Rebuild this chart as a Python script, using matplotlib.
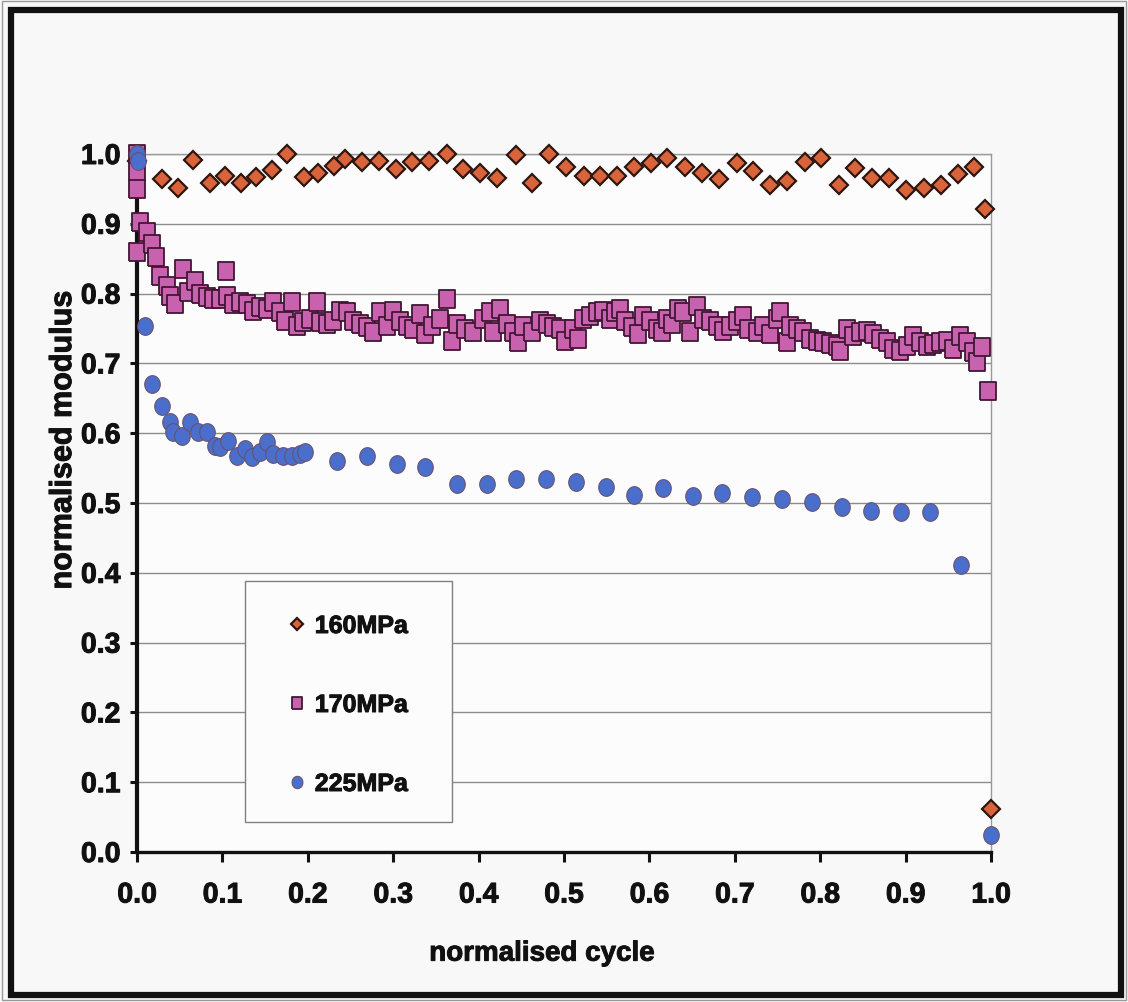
import numpy as np
import matplotlib
matplotlib.use("Agg")
import matplotlib.pyplot as plt
import matplotlib.patheffects as pe
from matplotlib.patches import Rectangle

# ---- data: normalised cycle vs normalised modulus ----
x_160 = [0.000, 0.029, 0.048, 0.066, 0.085, 0.103, 0.122, 0.139, 0.158, 0.176,
         0.195, 0.212, 0.231, 0.244, 0.264, 0.283, 0.303, 0.322, 0.342, 0.363,
         0.382, 0.402, 0.422, 0.444, 0.463, 0.483, 0.502, 0.523, 0.542, 0.562,
         0.582, 0.602, 0.621, 0.642, 0.662, 0.682, 0.702, 0.721, 0.741, 0.761,
         0.782, 0.801, 0.822, 0.841, 0.861, 0.881, 0.901, 0.921, 0.941, 0.961,
         0.980, 0.993, 1.000]
y_160 = [0.990, 0.964, 0.952, 0.992, 0.959, 0.968, 0.959, 0.967, 0.977, 1.000,
         0.967, 0.973, 0.983, 0.993, 0.989, 0.990, 0.978, 0.989, 0.990, 1.000,
         0.979, 0.973, 0.966, 0.998, 0.959, 1.000, 0.982, 0.968, 0.968, 0.968,
         0.982, 0.987, 0.994, 0.981, 0.973, 0.964, 0.987, 0.975, 0.955, 0.962,
         0.989, 0.994, 0.955, 0.980, 0.965, 0.966, 0.949, 0.951, 0.955, 0.971,
         0.982, 0.921, 0.062]

x_170 = [0.000, 0.000, 0.000, 0.000, 0.004, 0.012, 0.018, 0.022, 0.027, 0.035,
         0.039, 0.044, 0.054, 0.060, 0.068, 0.074, 0.082, 0.089, 0.097, 0.104,
         0.105, 0.112, 0.121, 0.129, 0.136, 0.144, 0.152, 0.159, 0.167, 0.173,
         0.181, 0.187, 0.194, 0.203, 0.211, 0.214, 0.222, 0.230, 0.238, 0.246,
         0.253, 0.261, 0.269, 0.276, 0.285, 0.293, 0.300, 0.308, 0.316, 0.323,
         0.331, 0.337, 0.345, 0.355, 0.363, 0.369, 0.375, 0.384, 0.393, 0.405,
         0.413, 0.417, 0.425, 0.433, 0.440, 0.446, 0.452, 0.463, 0.472, 0.480,
         0.487, 0.495, 0.501, 0.511, 0.516, 0.522, 0.530, 0.539, 0.546, 0.554,
         0.560, 0.566, 0.571, 0.580, 0.587, 0.593, 0.601, 0.609, 0.615, 0.621,
         0.626, 0.633, 0.639, 0.648, 0.656, 0.663, 0.671, 0.679, 0.686, 0.694,
         0.703, 0.710, 0.715, 0.726, 0.733, 0.741, 0.749, 0.753, 0.761, 0.765,
         0.773, 0.780, 0.788, 0.796, 0.803, 0.811, 0.820, 0.823, 0.831, 0.838,
         0.847, 0.855, 0.862, 0.870, 0.878, 0.885, 0.893, 0.902, 0.909, 0.917,
         0.925, 0.932, 0.940, 0.948, 0.955, 0.964, 0.972, 0.979, 0.984, 0.989,
         0.996]
y_170 = [1.000, 0.974, 0.950, 0.860, 0.903, 0.888, 0.871, 0.852, 0.825, 0.811,
         0.797, 0.785, 0.835, 0.802, 0.818, 0.799, 0.795, 0.792, 0.792, 0.832,
         0.797, 0.785, 0.788, 0.785, 0.775, 0.781, 0.778, 0.788, 0.774, 0.761,
         0.788, 0.754, 0.759, 0.764, 0.788, 0.759, 0.756, 0.761, 0.775, 0.774,
         0.761, 0.756, 0.752, 0.745, 0.774, 0.754, 0.775, 0.761, 0.754, 0.749,
         0.771, 0.742, 0.754, 0.764, 0.792, 0.732, 0.756, 0.749, 0.745, 0.764,
         0.774, 0.745, 0.778, 0.756, 0.745, 0.731, 0.754, 0.745, 0.761, 0.756,
         0.752, 0.749, 0.732, 0.749, 0.735, 0.764, 0.768, 0.774, 0.775, 0.764,
         0.774, 0.778, 0.761, 0.752, 0.742, 0.768, 0.761, 0.749, 0.745, 0.764,
         0.756, 0.778, 0.774, 0.745, 0.782, 0.764, 0.761, 0.754, 0.746, 0.754,
         0.761, 0.768, 0.749, 0.745, 0.754, 0.742, 0.764, 0.774, 0.731, 0.754,
         0.749, 0.745, 0.735, 0.732, 0.731, 0.728, 0.725, 0.718, 0.749, 0.739,
         0.745, 0.746, 0.742, 0.735, 0.731, 0.721, 0.718, 0.725, 0.739, 0.731,
         0.725, 0.728, 0.731, 0.732, 0.721, 0.739, 0.731, 0.716, 0.702, 0.723,
         0.660]

x_225 = [0.000, 0.001, 0.009, 0.018, 0.029, 0.039, 0.042, 0.053, 0.062, 0.071,
         0.082, 0.091, 0.097, 0.107, 0.117, 0.126, 0.135, 0.144, 0.152, 0.159,
         0.171, 0.181, 0.191, 0.197, 0.234, 0.269, 0.304, 0.337, 0.375, 0.410,
         0.444, 0.479, 0.514, 0.549, 0.582, 0.616, 0.651, 0.685, 0.720, 0.755,
         0.790, 0.826, 0.859, 0.895, 0.929, 0.965, 1.000]
y_225 = [1.000, 0.990, 0.754, 0.670, 0.639, 0.616, 0.602, 0.596, 0.616, 0.602,
         0.602, 0.582, 0.580, 0.589, 0.567, 0.577, 0.566, 0.573, 0.587, 0.570,
         0.567, 0.567, 0.570, 0.573, 0.560, 0.567, 0.556, 0.552, 0.527, 0.527,
         0.534, 0.534, 0.530, 0.523, 0.511, 0.521, 0.510, 0.514, 0.509, 0.506,
         0.501, 0.494, 0.489, 0.487, 0.487, 0.411, 0.024]

labels = ["160MPa", "170MPa", "225MPa"]
x_ticks = [0.0, 0.1, 0.2, 0.3, 0.4, 0.5, 0.6, 0.7, 0.8, 0.9, 1.0]
y_ticks = [0.0, 0.1, 0.2, 0.3, 0.4, 0.5, 0.6, 0.7, 0.8, 0.9, 1.0]

# ---- styling ----
plt.rcParams["font.family"] = ["Liberation Sans", "DejaVu Sans"]
plt.rcParams["font.weight"] = "bold"
INK = "#111111"
heavy = [pe.withStroke(linewidth=0.7, foreground=INK)]

# slightly tall square and ellipse marker shapes
rect_marker = [(-0.42, -0.5), (0.42, -0.5), (0.42, 0.5), (-0.42, 0.5), (-0.42, -0.5)]
theta = np.linspace(0, 2 * np.pi, 41)
ellipse_marker = list(zip(0.44 * np.cos(theta), 0.5 * np.sin(theta)))

fig = plt.figure(figsize=(11.28, 10.03), dpi=100, facecolor="#f8f8f8")
ax = fig.add_axes([137 / 1128, 1 - 853 / 1003, 854 / 1128, 698 / 1003])
ax.set_facecolor("#fcfcfc")

ax.plot(x_160, y_160, ls="none", marker="D", markersize=9.4,
        markerfacecolor="#d9643c", markeredgecolor="#2e1610",
        markeredgewidth=1.6, label=labels[0], zorder=3, clip_on=False)
ax.plot(x_170, y_170, ls="none", marker=rect_marker, markersize=13,
        markerfacecolor="#c862ae", markeredgecolor="#421634",
        markeredgewidth=1.3, label=labels[1], zorder=4, clip_on=False)
ax.plot(x_225, y_225, ls="none", marker=ellipse_marker, markersize=12.8,
        markerfacecolor="#4a6ecb", markeredgecolor="#6a4e66",
        markeredgewidth=0.7, label=labels[2], zorder=5, clip_on=False)

ax.set_xlim(0, 1.0)
ax.set_ylim(0, 1.0)
ax.set_xticks(x_ticks)
ax.set_yticks(y_ticks)
ax.set_xticklabels([f"{v:.1f}" for v in x_ticks])
ax.set_yticklabels([f"{v:.1f}" for v in y_ticks])

ax.yaxis.grid(True, color="#8c8c8c", linewidth=1.0, zorder=0)
ax.set_axisbelow(True)

for side in ("top", "right"):
    ax.spines[side].set_color("#9a9a9a")
    ax.spines[side].set_linewidth(1.0)
ax.spines["left"].set_linewidth(3.0)
ax.spines["bottom"].set_linewidth(2.4)
ax.spines["left"].set_color(INK)
ax.spines["bottom"].set_color(INK)

ax.tick_params(axis="y", direction="out", length=5, width=2.2, pad=7,
               labelsize=20.5, colors=INK)
ax.tick_params(axis="x", direction="out", length=7, width=2.2, pad=15,
               labelsize=20.5, colors=INK)
for lab in ax.get_xticklabels() + ax.get_yticklabels():
    lab.set_fontweight("bold")
    lab.set_path_effects(heavy)

ax.set_xlabel("normalised cycle", fontsize=20, fontweight="bold", color=INK)
ax.set_ylabel("normalised modulus", fontsize=22, fontweight="bold", color=INK)
ax.xaxis.label.set_path_effects(heavy)
ax.yaxis.label.set_path_effects(heavy)
ax.xaxis.set_label_coords(0.474, -0.127)
ax.yaxis.set_label_coords(-0.069, 0.59)

# legend box and entries
ax.add_patch(Rectangle((0.1265, 0.043), 0.2424, 0.3453, transform=ax.transAxes,
                       facecolor="#fcfcfc", edgecolor="#808080", linewidth=1.0,
                       zorder=6))
leg = ax.legend(loc="center left", bbox_to_anchor=(0.1745, 0.2106),
                markerscale=0.7, handlelength=0.9,
                handletextpad=0.25, borderpad=0.0, labelspacing=2.2,
                frameon=False, borderaxespad=0.0,
                prop={"family": ["Liberation Sans", "DejaVu Sans"],
                      "weight": "bold", "size": 18})
leg.set_zorder(7)
for t in leg.get_texts():
    t.set_color(INK)
    t.set_path_effects(heavy)

# outer border around the whole chart
fig.patches.append(Rectangle((11 / 1128, 7 / 1003), 1110 / 1128, 985 / 1003,
                             transform=fig.transFigure, fill=False,
                             edgecolor=INK, linewidth=4.5, zorder=10))
fig.patches.append(Rectangle((2 / 1128, 2 / 1003), 1124 / 1128, 999 / 1003,
                             transform=fig.transFigure, fill=False,
                             edgecolor="#9a9a9a", linewidth=1.0, zorder=10))

fig.savefig("out.png", dpi=100, facecolor=fig.get_facecolor())
